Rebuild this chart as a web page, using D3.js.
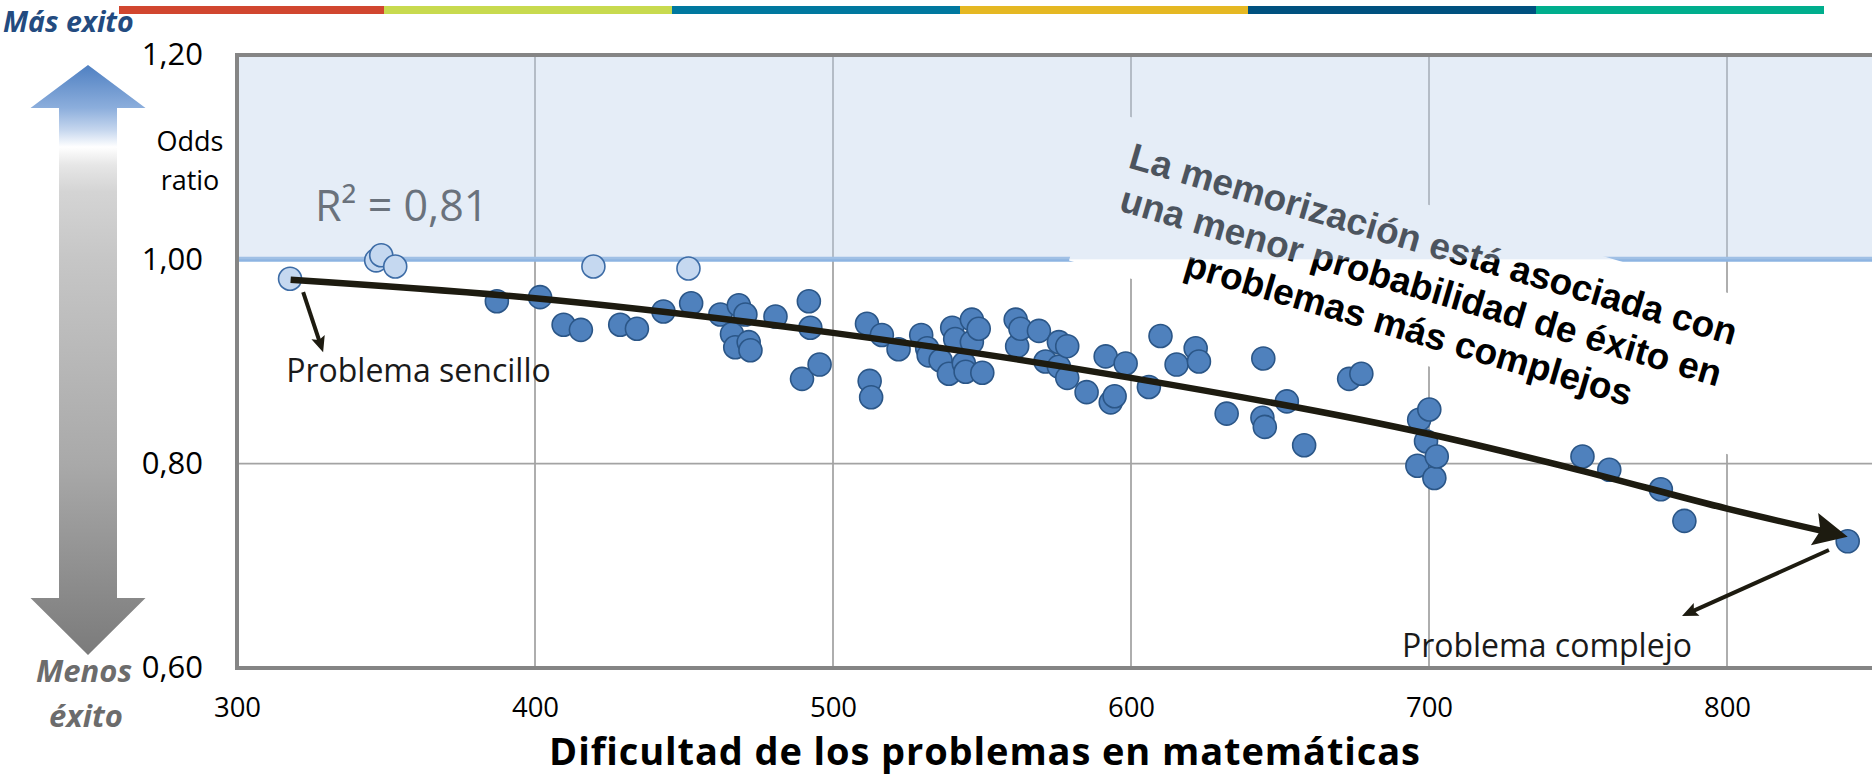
<!DOCTYPE html>
<html>
<head>
<meta charset="utf-8">
<script src="https://cdn.jsdelivr.net/npm/d3@7"></script>
<style>
  html, body { margin: 0; padding: 0; background: #fff; overflow: hidden; }
  svg { display: block; }
</style>
</head>
<body>
<svg id="chart" width="1872" height="777"></svg>
<script>
// Item difficulty on the maths scale and odds ratio of success for memorisation strategies
const difficulty = [
  387.2, 401.7, 409.6, 415.4, 428.6, 434.2, 443.1, 452.4, 462.2, 466.1,
  467.2, 468.4, 470.6, 471.7, 472.3, 480.7, 489.6, 491.9, 492.4, 495.5,
  511.4, 512.3, 512.8, 516.4, 522.0, 529.6, 531.6, 532.1, 536.1, 538.9,
  540.0, 541.0, 543.9, 544.5, 546.6, 546.6, 548.9, 550.1, 561.3, 561.8,
  562.9, 569.1, 571.3, 575.8, 575.8, 578.6, 578.6, 585.1, 591.5, 593.2,
  594.5, 598.2, 606.0, 609.9, 615.3, 621.7, 622.8, 632.1, 644.1, 644.4,
  644.9, 652.3, 658.1, 673.2, 677.3, 696.1, 696.7, 699.0, 700.1, 701.8,
  702.6, 751.5, 760.5, 777.8, 785.7, 840.5
];
const oddsRatio = [
  0.959, 0.963, 0.936, 0.931, 0.936, 0.932, 0.949, 0.957, 0.946, 0.927,
  0.914, 0.955, 0.946, 0.919, 0.911, 0.944, 0.883, 0.959, 0.933, 0.897,
  0.937, 0.881, 0.865, 0.926, 0.912, 0.926, 0.913, 0.906, 0.901, 0.888,
  0.933, 0.922, 0.898, 0.890, 0.941, 0.919, 0.932, 0.889, 0.941, 0.915,
  0.932, 0.930, 0.900, 0.919, 0.895, 0.915, 0.884, 0.870, 0.905, 0.860,
  0.866, 0.898, 0.875, 0.925, 0.897, 0.913, 0.900, 0.849, 0.845, 0.903,
  0.836, 0.861, 0.818, 0.883, 0.888, 0.798, 0.843, 0.822, 0.853, 0.786,
  0.807, 0.807, 0.794, 0.775, 0.744, 0.724
];
// Items whose odds ratio is not significantly different from 1
const difficultyNS = [317.8, 346.7, 348.4, 353.1, 419.6, 451.5];
const oddsRatioNS  = [0.981, 0.999, 1.004, 0.993, 0.993, 0.991];

// Fitted trend
const trendDifficulty = [318, 400, 500, 600, 700, 750, 800, 840.5];
const trendOdds       = [0.980, 0.962, 0.928, 0.884, 0.829, 0.794, 0.756, 0.7285];
const rSquared = 0.81;

const xTicks = [300, 400, 500, 600, 700, 800];
const yTicks = [0.60, 0.80, 1.00, 1.20];

const stripeColors = ["#d1462f", "#c8da4f", "#00789f", "#e5b823", "#00517f", "#00ae8d"];

const headline = [
  "La memorización está asociada con",
  "una menor probabilidad de éxito en",
  "problemas más complejos"
];

// ---------------------------------------------------------------
const svg = d3.select("#chart");
const plot = { left: 237, right: 1876, top: 55, bottom: 668 };
const x = d3.scaleLinear().domain([300, 850]).range([plot.left, plot.right]);
const y = d3.scaleLinear().domain([0.6, 1.2]).range([plot.bottom, plot.top]);
const es = d3.formatLocale({ decimal: ",", thousands: ".", grouping: [3], currency: ["", " €"] });
const fmt2 = es.format(".2f");
const ink = "#1d1b10";
const calib = "'Open Sans', 'Noto Sans', sans-serif";

function arrowHead(tip, dir, len, half, notch) {
  const [ux, uy] = dir, nx = -uy, ny = ux;
  const bx = tip[0] - ux * len, by = tip[1] - uy * len;
  const p1 = [bx + nx * half, by + ny * half];
  const p2 = [tip[0] - ux * (len - notch), tip[1] - uy * (len - notch)];
  const p3 = [bx - nx * half, by - ny * half];
  return `M${tip}L${p1}L${p2}L${p3}Z`;
}

// decorative stripe across the top (first block starts after the heading)
const stripeW = 288, stripeEnd = 1824;
svg.append("g").selectAll("rect").data(stripeColors).join("rect")
  .attr("x", (d, i) => i === 0 ? 119 : stripeEnd - (stripeColors.length - i) * stripeW)
  .attr("y", 6)
  .attr("width", (d, i) => i === 0 ? stripeEnd - 5 * stripeW - 119 : stripeW)
  .attr("height", 8).attr("fill", d => d);

// vertical gradient double arrow (more / less success)
const defs = svg.append("defs");
const grad = defs.append("linearGradient").attr("id", "succ")
  .attr("gradientUnits", "userSpaceOnUse").attr("x1", 0).attr("x2", 0).attr("y1", 65).attr("y2", 655);
[[0, "#4f80c2"], [0.073, "#8caedc"], [0.11, "#c5d6ee"], [0.139, "#ffffff"], [0.17, "#e6e6e6"],
 [0.215, "#d4d4d4"], [0.33, "#c6c6c6"], [0.676, "#a9a9a9"], [1, "#7b7b7b"]]
  .forEach(([o, c]) => grad.append("stop").attr("offset", o).attr("stop-color", c));
const ax = 88;
svg.append("path")
  .attr("d", `M${ax},65 L${ax + 57.5},108 L${ax + 29},108 L${ax + 29},598 L${ax + 57.5},598 L${ax},655
              L${ax - 57.5},598 L${ax - 29},598 L${ax - 29},108 L${ax - 57.5},108 Z`)
  .attr("fill", "url(#succ)");

svg.append("text").text("Más exito").attr("x", 3).attr("y", 32)
  .attr("font-family", calib).attr("font-weight", 700).attr("font-style", "italic")
  .attr("font-size", 28.5).attr("fill", "#234b80");
const less = svg.append("text").attr("font-family", calib).attr("font-weight", 700)
  .attr("font-style", "italic").attr("font-size", 31).attr("fill", "#6c6c6c");
less.append("tspan").attr("x", 36).attr("y", 682).text("Menos");
less.append("tspan").attr("x", 49).attr("y", 727).text("éxito");

const odds = svg.append("text").attr("font-family", calib).attr("font-size", 27)
  .attr("text-anchor", "middle").attr("fill", "#000");
odds.append("tspan").attr("x", 190).attr("y", 151).text("Odds");
odds.append("tspan").attr("x", 190).attr("y", 190).text("ratio");

// gridlines
const grid = svg.append("g").attr("stroke", "#a3a3a3").attr("stroke-width", 1.75);
grid.selectAll("line.v").data(xTicks.slice(1)).join("line").attr("class", "v")
  .attr("x1", d => x(d)).attr("x2", d => x(d)).attr("y1", plot.top).attr("y2", plot.bottom);
grid.selectAll("line.h").data(yTicks.slice(1, -1)).join("line").attr("class", "h")
  .attr("x1", plot.left).attr("x2", plot.right).attr("y1", d => y(d)).attr("y2", d => y(d));

// reference line at odds ratio = 1
svg.append("line").attr("x1", plot.left).attr("x2", plot.right)
  .attr("y1", y(1)).attr("y2", y(1)).attr("stroke", "#8db4e2").attr("stroke-width", 5);

// headline box
const hx = x(700.3), hy = y(1.003);
const head = svg.append("g").attr("transform", `translate(${hx},${hy}) rotate(16.4)`);
head.append("rect").attr("x", -345).attr("y", -49).attr("width", 690).attr("height", 155).attr("fill", "#fff");
head.selectAll("text").data(headline).join("text")
  .attr("x", 0).attr("y", (d, i) => i * 44).attr("text-anchor", "middle")
  .attr("font-family", "'Liberation Sans', Arial, sans-serif").attr("font-weight", 700)
  .attr("font-size", 37).attr("fill", "#000").text(d => d);

// R² label
svg.append("text").attr("x", x(326.2)).attr("y", y(1.0375))
  .attr("font-family", calib).attr("font-size", 43).attr("fill", "#333")
  .text(`R² = ${fmt2(rSquared)}`);

// shaded zone above 1 (odds favour success)
svg.append("rect").attr("x", plot.left).attr("y", y(1.2))
  .attr("width", plot.right - plot.left).attr("height", y(1) - y(1.2))
  .attr("fill", "rgb(190,210,234)").attr("fill-opacity", 0.4);

// points
const pts = svg.append("g");
pts.selectAll("circle.ns").data(difficultyNS.map((d, i) => [d, oddsRatioNS[i]])).join("circle")
  .attr("class", "ns").attr("cx", d => x(d[0])).attr("cy", d => y(d[1])).attr("r", 11.5)
  .attr("fill", "#c5d8f0").attr("stroke", "#3d6ca6").attr("stroke-width", 1.6);
pts.selectAll("circle.sig").data(difficulty.map((d, i) => [d, oddsRatio[i]])).join("circle")
  .attr("class", "sig").attr("cx", d => x(d[0])).attr("cy", d => y(d[1])).attr("r", 11.5)
  .attr("fill", "#4f81bd").attr("stroke", "#2b5687").attr("stroke-width", 1.6);

// trend line with arrow head
const trendLine = d3.line().x(d => x(d[0])).y(d => y(d[1])).curve(d3.curveMonotoneX);
const trend = svg.append("path")
  .attr("d", trendLine(trendDifficulty.map((d, i) => [d, trendOdds[i]])))
  .attr("fill", "none").attr("stroke", ink).attr("stroke-width", 6.5);
{
  const n = trend.node(), L = n.getTotalLength();
  const a = n.getPointAtLength(L - 10), b = n.getPointAtLength(L);
  const dl = Math.hypot(b.x - a.x, b.y - a.y);
  trend.attr("stroke-dasharray", `${L - 16} 10000`);
  svg.append("path").attr("d", arrowHead([b.x, b.y], [(b.x - a.x) / dl, (b.y - a.y) / dl], 34, 16.5, 6))
    .attr("fill", ink);
}

// callouts
const callouts = [
  { text: "Problema sencillo", tx: 316.5, ty: 0.880, from: [322.2, 0.968], to: [328.9, 0.909] },
  { text: "Problema complejo", tx: 690.9, ty: 0.6105, from: [834.2, 0.7155], to: [784.9, 0.651] }
];
callouts.forEach(c => {
  const s = [x(c.from[0]), y(c.from[1])], t = [x(c.to[0]), y(c.to[1])];
  const dl = Math.hypot(t[0] - s[0], t[1] - s[1]);
  const u = [(t[0] - s[0]) / dl, (t[1] - s[1]) / dl];
  svg.append("line").attr("x1", s[0]).attr("y1", s[1])
    .attr("x2", t[0] - u[0] * 10).attr("y2", t[1] - u[1] * 10)
    .attr("stroke", ink).attr("stroke-width", 4);
  svg.append("path").attr("d", arrowHead(t, u, 16, 7, 3)).attr("fill", ink);
  svg.append("text").attr("x", x(c.tx)).attr("y", y(c.ty))
    .attr("font-family", calib).attr("font-size", 32).attr("fill", "#1a1a1a").text(c.text);
});

// plot frame
svg.append("rect").attr("x", plot.left).attr("y", plot.top)
  .attr("width", plot.right - plot.left).attr("height", plot.bottom - plot.top)
  .attr("fill", "none").attr("stroke", "#858585").attr("stroke-width", 4);

// axes
const xAxis = svg.append("g").attr("transform", `translate(0,${plot.bottom})`)
  .call(d3.axisBottom(x).tickValues(xTicks).tickSize(0).tickPadding(29).tickFormat(d3.format("d")));
xAxis.select(".domain").remove();
xAxis.attr("font-family", calib).attr("font-size", 27.5).attr("color", "#000");

const yAxis = svg.append("g").attr("transform", `translate(${plot.left},0)`)
  .call(d3.axisLeft(y).tickValues(yTicks).tickSize(0).tickPadding(34).tickFormat(fmt2));
yAxis.select(".domain").remove();
yAxis.attr("font-family", calib).attr("font-size", 31).attr("color", "#000");

svg.append("text").attr("x", 985).attr("y", 765).attr("text-anchor", "middle")
  .attr("font-family", calib).attr("font-weight", 700).attr("font-size", 38)
  .attr("letter-spacing", 0.9).attr("fill", "#000")
  .text("Dificultad de los problemas en matemáticas");
</script>
</body>
</html>
